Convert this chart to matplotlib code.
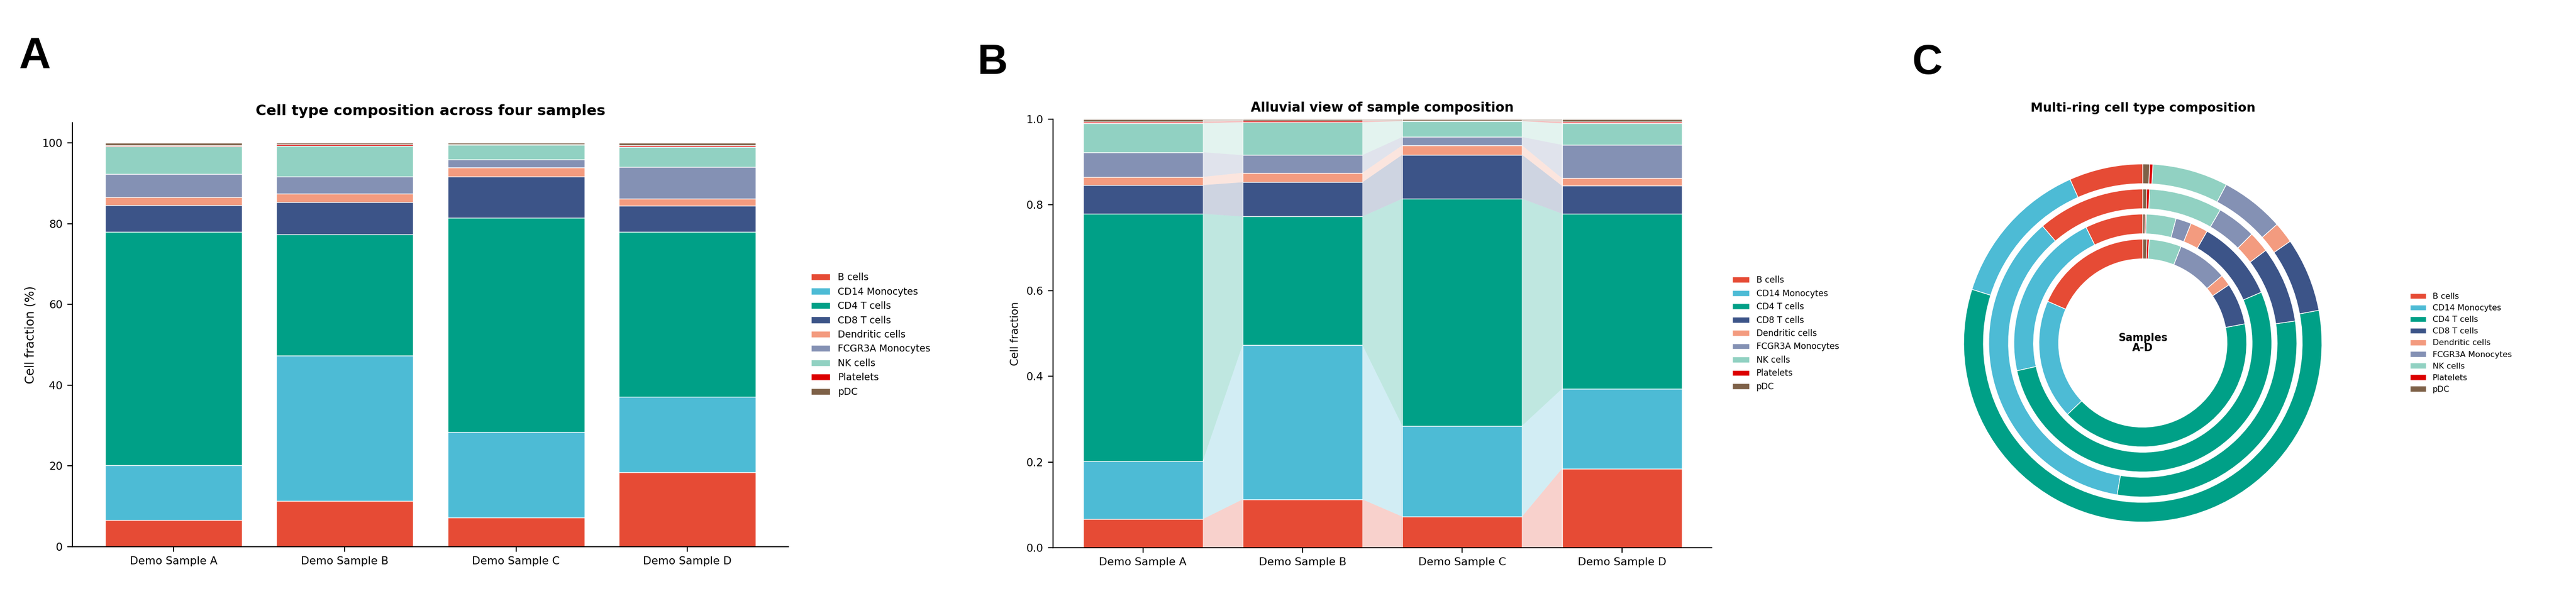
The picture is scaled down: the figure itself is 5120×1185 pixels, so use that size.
import numpy as np
import matplotlib
matplotlib.use("Agg")
import matplotlib.pyplot as plt
from matplotlib.patches import Patch, Polygon

plt.rcParams['font.family'] = ['DejaVu Sans']

# data: fraction of each cell type per sample
samples = ["Demo Sample A", "Demo Sample B", "Demo Sample C", "Demo Sample D"]
cell_types = ["B cells", "CD14 Monocytes", "CD4 T cells", "CD8 T cells",
              "Dendritic cells", "FCGR3A Monocytes", "NK cells", "Platelets", "pDC"]
colors = ["#E64B35", "#4DBBD5", "#00A087", "#3C5488", "#F39B7F",
          "#8491B4", "#91D1C2", "#DC0000", "#7E6148"]

frac_a = [0.0666, 0.1350, 0.5777, 0.0669, 0.0191, 0.0576, 0.0681, 0.0030, 0.0060]
frac_b = [0.1128, 0.3606, 0.2995, 0.0799, 0.0222, 0.0412, 0.0768, 0.0030, 0.0040]
frac_c = [0.0726, 0.2120, 0.5299, 0.1025, 0.0220, 0.0195, 0.0372, 0.0013, 0.0030]
frac_d = [0.1843, 0.1865, 0.4088, 0.0650, 0.0176, 0.0779, 0.0501, 0.0035, 0.0063]

comp = np.array([frac_a, frac_b, frac_c, frac_d])
x = np.arange(len(samples))

W, H, DPI = 5120, 1185, 200
fig = plt.figure(figsize=(W / DPI, H / DPI), dpi=DPI)


def px_axes(left, top, right, bottom):
    return fig.add_axes([left / W, 1 - bottom / H, (right - left) / W, (bottom - top) / H])


def legend_handles():
    return [Patch(facecolor=c, edgecolor='white', linewidth=0.5, label=t)
            for c, t in zip(colors, cell_types)]


# ---- A: stacked bars (%)
axA = px_axes(144, 244, 1567, 1087)
bottom = np.zeros(len(samples))
for k, ct in enumerate(cell_types):
    vals = comp[:, k] * 100
    axA.bar(x, vals, 0.8, bottom=bottom, color=colors[k], edgecolor='white', linewidth=0.5)
    bottom += vals
axA.set_xticks(x)
axA.set_xticklabels(samples)
axA.tick_params(labelsize=7.8)
axA.set_ylabel("Cell fraction (%)", fontsize=8.7)
axA.set_title("Cell type composition across four samples", fontsize=10.5, fontweight='bold', pad=5.5)
axA.spines[['top', 'right']].set_visible(False)
axA.legend(handles=legend_handles(), loc='center left', bbox_to_anchor=(1.02, 0.5),
           frameon=False, fontsize=6.8)

# ---- B: alluvial
axB = px_axes(2093, 237, 3402, 1089)
bw = 0.75
cum = np.cumsum(comp, axis=1)
low = cum - comp
for k, ct in enumerate(cell_types):
    axB.bar(x, comp[:, k], bw, bottom=low[:, k], color=colors[k], edgecolor='white', linewidth=0.5)
    for i in range(len(samples) - 1):
        pts = [(x[i] + bw / 2, low[i, k]), (x[i] + bw / 2, cum[i, k]),
               (x[i + 1] - bw / 2, cum[i + 1, k]), (x[i + 1] - bw / 2, low[i + 1, k])]
        axB.add_patch(Polygon(pts, closed=True, facecolor=colors[k], alpha=0.25, edgecolor='none'))
axB.set_ylim(0, 1)
axB.set_xticks(x)
axB.set_xticklabels(samples)
axB.tick_params(labelsize=7.8)
axB.set_ylabel("Cell fraction", fontsize=7.6)
axB.set_title("Alluvial view of sample composition", fontsize=9.3, fontweight='bold', pad=5.5)
axB.spines[['top', 'right']].set_visible(False)
axB.legend(handles=legend_handles(), loc='center left', bbox_to_anchor=(1.02, 0.5),
           frameon=False, fontsize=6.1)

# ---- C: multi-ring donut
cx, cy, half = 4259, 682, 445
axC = px_axes(cx - half, cy - half, cx + half, cy + half)
for i in range(len(samples)):
    axC.pie(comp[i], radius=1 - 0.14 * i, colors=colors, startangle=90, counterclock=True,
            wedgeprops=dict(width=0.11, edgecolor='white', linewidth=0.5))
axC.set_xlim(-1.25, 1.25)
axC.set_ylim(-1.25, 1.25)
axC.set_aspect('equal')
axC.text(0, 0, "Samples\nA-D", ha='center', va='center', fontsize=7.4, fontweight='bold',
         linespacing=1.0)
axC.set_title("Multi-ring cell type composition", fontsize=8.9, fontweight='bold', pad=5.5)
axC.legend(handles=legend_handles(), loc='center left', bbox_to_anchor=(1.08, 0.5),
           frameon=False, fontsize=5.8)

# panel letters
for lab, lx, base, fs in [("A", 38, 136, 31.5), ("B", 1942, 147, 30), ("C", 3801, 147, 30)]:
    fig.text(lx / W, 1 - base / H, lab, fontsize=fs, fontweight='bold',
             family=['Liberation Sans', 'DejaVu Sans'], ha='left', va='baseline')

fig.savefig("out.png", dpi=DPI)
